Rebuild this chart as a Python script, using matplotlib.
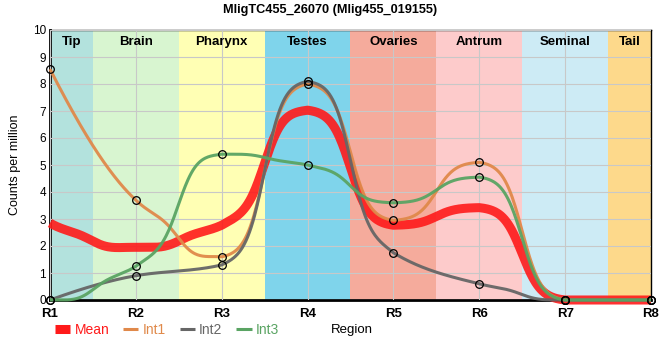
import numpy as np
import matplotlib.pyplot as plt

plt.rcParams.update({
    "font.family": ["Liberation Sans", "DejaVu Sans"],
    "font.size": 8,
})

regions = ["R1", "R2", "R3", "R4", "R5", "R6", "R7", "R8"]
mean = [2.85, 1.95, 2.77, 7.03, 2.77, 3.42, 0.0, 0.0]
int1 = [8.55, 3.7, 1.6, 8.0, 2.95, 5.1, 0.0, 0.0]
int2 = [0.0, 0.9, 1.3, 8.1, 1.75, 0.6, 0.0, 0.0]
int3 = [0.0, 1.25, 5.4, 5.0, 3.6, 4.55, 0.0, 0.0]

tissues = ["Tip", "Brain", "Pharynx", "Testes", "Ovaries", "Antrum", "Seminal", "Tail"]
tissue_edges = [0, 0.5, 1.5, 2.5, 3.5, 4.5, 5.5, 6.5, 7]
tissue_colors = ["#b3e2dd", "#d8f5d0", "#ffffb4", "#7fd4eb",
                 "#f5ab9c", "#fdcbcb", "#cdebf5", "#fdd98b"]


def tangents(y):
    # pchip style slopes (unit spacing)
    d = np.diff(y)
    m = np.zeros_like(y)
    for i in range(1, len(y) - 1):
        if d[i - 1] * d[i] > 0:
            m[i] = 2 / (1 / d[i - 1] + 1 / d[i])
    for i, e, ref in [(0, (3 * d[0] - d[1]) / 2, d[0]), (-1, (3 * d[-1] - d[-2]) / 2, d[-1])]:
        if e * ref <= 0:
            e = 0
        elif abs(e) > 3 * abs(ref):
            e = 3 * ref
        m[i] = e
    return m


def smooth(y, per_seg=100):
    # curve through the points; segments ending in a flat point get a steeper blend
    y = np.asarray(y, float)
    m = tangents(y)
    xs_all, ys_all = [], []
    t = np.linspace(0, 1, per_seg)
    for i in range(len(y) - 1):
        m0, m1 = m[i], m[i + 1]
        h10 = t**3 - 2 * t**2 + t
        h11 = t**3 - t**2
        nzero = (m0 == 0) + (m1 == 0)
        if nzero == 0:
            s = -2 * t**3 + 3 * t**2
        else:
            k = 12.0 if nzero == 2 else 9.0
            lo = 1 / (1 + np.exp(k / 2))
            hi = 1 / (1 + np.exp(-k / 2))
            s = (1 / (1 + np.exp(-k * (t - 0.5))) - lo) / (hi - lo)
        seg = y[i] + (y[i + 1] - y[i]) * s + h10 * m0 + h11 * m1
        xs_all.append(i + t)
        ys_all.append(seg)
    return np.concatenate(xs_all), np.concatenate(ys_all)


fig = plt.figure(figsize=(6.6, 3.6), dpi=100)
ax = fig.add_axes([50 / 660, 60 / 360, 601 / 660, 270 / 360])

for i, name in enumerate(tissues):
    ax.axvspan(tissue_edges[i], tissue_edges[i + 1], color=tissue_colors[i], lw=0, zorder=0)
    ax.text((tissue_edges[i] + tissue_edges[i + 1]) / 2, 9.55, name, ha="center", va="center",
            fontsize=9.5, fontweight="bold", zorder=5)

x = np.arange(len(regions))
series = [
    ("Mean", mean, "#ff1a1a", 6.5, 0.9),
    ("Int1", int1, "#e0894a", 2.2, 0.95),
    ("Int2", int2, "#666666", 2.2, 0.95),
    ("Int3", int3, "#5aa463", 2.2, 0.95),
]
handles = []
for name, vals, col, lw, a in series:
    xs, ys = smooth(vals)
    ln, = ax.plot(xs, ys, color=col, lw=lw, alpha=a, label=name, zorder=3,
                  solid_capstyle="butt", clip_on=False)
    handles.append(ln)
    if name != "Mean":
        ax.plot(x, vals, "o", ms=5.5, mfc="none", mec="black", mew=0.9, zorder=4, clip_on=False)

ax.set_xlim(0, 7)
ax.set_ylim(0, 10)
ax.set_xticks(x)
ax.set_xticklabels(regions, fontweight="bold")
ax.set_yticks(range(11))
ax.tick_params(length=0, pad=3, labelsize=8.5)
ax.tick_params(axis="x", pad=6, labelsize=9.5)
ax.grid(color="#c8c8c8", lw=0.8, zorder=1)
ax.set_axisbelow(False)
for gl in ax.get_xgridlines() + ax.get_ygridlines():
    gl.set_zorder(1)
ax.spines["bottom"].set_linewidth(2)
ax.spines["left"].set_linewidth(2)
ax.spines["top"].set_linewidth(1)
ax.spines["right"].set_linewidth(1)
ax.set_ylabel("Counts per million", fontsize=9, labelpad=8)
fig.suptitle("MligTC455_26070 (Mlig455_019155)", x=0.5, y=1 - 10 / 360, va="center",
             fontsize=9.2, fontweight="bold")

leg = fig.legend(handles=handles, loc="center left", bbox_to_anchor=(55 / 660, 30 / 360),
                 ncol=4, frameon=False, fontsize=10, labelcolor="linecolor",
                 handlelength=1.1, handletextpad=0.3, columnspacing=1.0,
                 borderpad=0, borderaxespad=0)
for lh in leg.get_lines():
    lh.set_alpha(1)
fig.text(331 / 660, 30 / 360, "Region", ha="left", va="center", fontsize=9.5)

fig.savefig("out.png", dpi=100)
